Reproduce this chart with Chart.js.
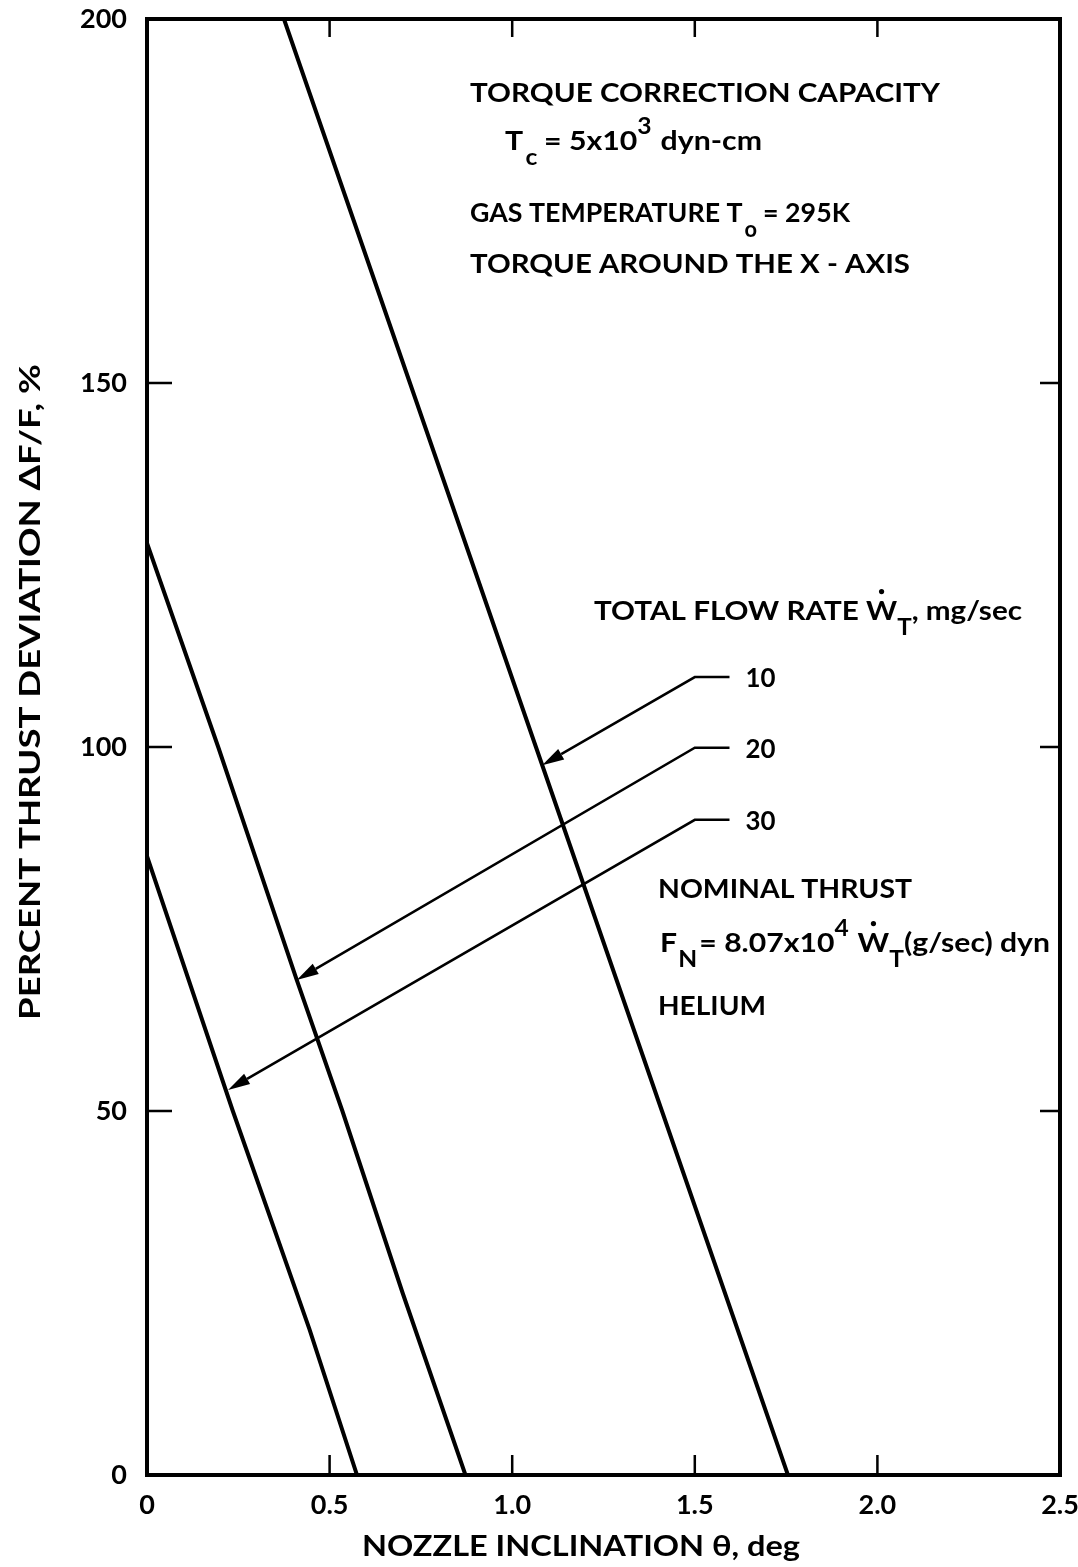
<!DOCTYPE html>
<html>
<head>
<meta charset="utf-8">
<script src="https://cdn.jsdelivr.net/npm/chart.js@4.4.1/dist/chart.umd.min.js"></script>
<style>
  html, body { margin: 0; padding: 0; background: #fff; }
  #wrap { width: 1078px; height: 1567px; position: relative; }
</style>
</head>
<body>
<div id="wrap"><canvas id="chart"></canvas></div>
<script>
// curves: nozzle inclination (deg) vs thrust deviation (%)
const thetaW10 = [0.375, 0.72, 1.065, 1.41, 1.755];
const devW10   = [200, 150, 100, 50, 0];
const thetaW20 = [0, 0.195, 0.41, 0.535, 0.70, 0.872];
const devW20   = [128, 100, 68, 50, 25, 0];
const thetaW30 = [0, 0.235, 0.445, 0.575];
const devW30   = [85, 50, 20, 0];

const flowRates = ['10', '20', '30'];
const xTicks = [0, 0.5, 1.0, 1.5, 2.0, 2.5];
const xTickLabels = ['0', '0.5', '1.0', '1.5', '2.0', '2.5'];
const yTicks = [0, 50, 100, 150, 200];

// leader arrows (data units): elbow on the right, tip on the curve
const arrowElbowX = 1.50;
const arrowEndX = 1.595;
const arrowElbowY = [109.6, 99.9, 90.0];
const arrowTipX = [1.082, 0.41, 0.222];
const arrowTipY = [97.5, 68, 52.9];

const FONT = 'Lato, "DejaVu Sans", sans-serif';

function toPoints(xs, ys) {
  return xs.map((x, i) => ({ x: x, y: ys[i] }));
}

function curve(xs, ys) {
  return {
    data: toPoints(xs, ys),
    borderColor: '#000',
    borderWidth: 4,
    pointRadius: 0,
    showLine: true,
    tension: 0,
    fill: false
  };
}

// a row of text pieces (sub/superscripts, dotted W), stretched to run from x0 to x1
function drawRuns(ctx, x0, x1, y, runs, size) {
  const fontFor = r => 'bold ' + ((r.sub || r.sup) ? Math.round(size * 0.8) : size) + 'px ' + FONT;
  let total = 0;
  runs.forEach(r => {
    ctx.font = fontFor(r);
    r.w = ctx.measureText(r.t).width;
    total += r.w + (r.gap || 0);
  });
  const sx = (x1 - x0) / total;
  ctx.save();
  ctx.translate(x0, y);
  ctx.scale(sx, 1);
  let cx = 0;
  runs.forEach(r => {
    ctx.font = fontFor(r);
    let dy = 0;
    if (r.sub) dy = size * 0.55;
    if (r.sup) dy = -size * 0.6;
    ctx.fillText(r.t, cx, dy);
    if (r.dot) {
      ctx.beginPath();
      ctx.ellipse(cx + r.w / 2, -size * 0.72 - 9, 2.6 / sx, 2.6, 0, 0, Math.PI * 2);
      ctx.fill();
    }
    cx += r.w + (r.gap || 0);
  });
  ctx.restore();
}

const decorations = {
  id: 'decorations',
  afterDatasetsDraw(chart) {
    const ctx = chart.ctx;
    const a = chart.chartArea;
    const xs = chart.scales.x;
    const ys = chart.scales.y;
    ctx.save();
    ctx.strokeStyle = '#000';
    ctx.fillStyle = '#000';

    // frame
    ctx.lineWidth = 4;
    ctx.strokeRect(a.left, a.top, a.right - a.left, a.bottom - a.top);

    // inward tick marks on all four sides
    ctx.lineWidth = 2.5;
    xTicks.slice(1, -1).forEach(v => {
      const px = xs.getPixelForValue(v);
      ctx.beginPath();
      ctx.moveTo(px, a.bottom); ctx.lineTo(px, a.bottom - 20);
      ctx.moveTo(px, a.top); ctx.lineTo(px, a.top + 18);
      ctx.stroke();
    });
    yTicks.slice(1, -1).forEach(v => {
      const py = ys.getPixelForValue(v);
      ctx.beginPath();
      ctx.moveTo(a.left, py); ctx.lineTo(a.left + 25, py);
      ctx.moveTo(a.right, py); ctx.lineTo(a.right - 20, py);
      ctx.stroke();
    });

    // leader arrows with flow-rate labels
    ctx.lineWidth = 2.5;
    flowRates.forEach((lab, i) => {
      const ex = xs.getPixelForValue(arrowElbowX);
      const endX = xs.getPixelForValue(arrowEndX);
      const ey = ys.getPixelForValue(arrowElbowY[i]);
      const tx = xs.getPixelForValue(arrowTipX[i]);
      const ty = ys.getPixelForValue(arrowTipY[i]);
      const ang = Math.atan2(ty - ey, tx - ex);
      const hl = 22, hw = 6;
      const bx = tx - hl * Math.cos(ang), by = ty - hl * Math.sin(ang);
      ctx.beginPath();
      ctx.moveTo(endX, ey);
      ctx.lineTo(ex, ey);
      ctx.lineTo(bx, by);
      ctx.stroke();
      ctx.beginPath();
      ctx.moveTo(tx, ty);
      ctx.lineTo(bx + hw * Math.sin(ang), by - hw * Math.cos(ang));
      ctx.lineTo(bx - hw * Math.sin(ang), by + hw * Math.cos(ang));
      ctx.closePath();
      ctx.fill();
      ctx.textBaseline = 'alphabetic';
      drawRuns(ctx, endX + 16, endX + 16 + 30, ey + 10, [{ t: lab }], 27);
    });

    // notes
    ctx.textBaseline = 'alphabetic';
    ctx.textAlign = 'left';
    const S = 27;
    drawRuns(ctx, 470, 940, 102, [{ t: 'TORQUE CORRECTION CAPACITY' }], S);
    drawRuns(ctx, 505, 762, 150, [{ t: 'T', gap: 2 }, { t: 'c', sub: true, gap: 6 }, { t: '= 5x10' }, { t: '3', sup: true, gap: 8 }, { t: 'dyn-cm' }], S);
    drawRuns(ctx, 470, 850, 222, [{ t: 'GAS TEMPERATURE T', gap: 2 }, { t: 'o', sub: true, gap: 6 }, { t: '= 295K' }], S);
    drawRuns(ctx, 470, 910, 273, [{ t: 'TORQUE AROUND THE X - AXIS' }], S);
    drawRuns(ctx, 594, 1022, 620, [{ t: 'TOTAL FLOW RATE ' }, { t: 'W', dot: true }, { t: 'T', sub: true }, { t: ', mg/sec' }], S);
    drawRuns(ctx, 658, 912, 898, [{ t: 'NOMINAL THRUST' }], S);
    drawRuns(ctx, 660, 1050, 952, [{ t: 'F', gap: 1 }, { t: 'N', sub: true, gap: 2 }, { t: '= 8.07x10' }, { t: '4', sup: true, gap: 8 }, { t: 'W', dot: true }, { t: 'T', sub: true }, { t: '(g/sec) dyn' }], S);
    drawRuns(ctx, 658, 766, 1015, [{ t: 'HELIUM' }], S);

    // axis titles
    drawRuns(ctx, 362, 800, 1556, [{ t: 'NOZZLE INCLINATION \u03B8, deg' }], 28);
    ctx.save();
    ctx.translate(40, 692);
    ctx.rotate(-Math.PI / 2);
    drawRuns(ctx, -328, 328, 0, [{ t: 'PERCENT THRUST DEVIATION \u0394F/F, %' }], 28);
    ctx.restore();

    ctx.restore();
  }
};

new Chart(document.getElementById('chart'), {
  type: 'scatter',
  data: {
    datasets: [curve(thetaW10, devW10), curve(thetaW20, devW20), curve(thetaW30, devW30)]
  },
  options: {
    responsive: true,
    maintainAspectRatio: false,
    animation: false,
    layout: { padding: { top: 19, right: 18, left: 0, bottom: 0 } },
    plugins: {
      legend: { display: false },
      tooltip: { enabled: false }
    },
    scales: {
      x: {
        type: 'linear',
        min: 0,
        max: 2.5,
        grid: { display: false, drawTicks: false },
        border: { display: false },
        afterBuildTicks(scale) {
          scale.ticks = xTicks.map(v => ({ value: v }));
        },
        ticks: {
          color: '#000',
          font: { family: FONT, size: 27, weight: 'bold' },
          padding: 14,
          maxRotation: 0,
          autoSkip: false,
          callback: (v, i) => xTickLabels[i]
        },
        afterFit(scale) {
          scale.height = 92;
          scale.paddingLeft = 0;
          scale.paddingRight = 0;
        }
      },
      y: {
        min: 0,
        max: 200,
        grid: { display: false, drawTicks: false },
        border: { display: false },
        afterBuildTicks(scale) {
          scale.ticks = yTicks.map(v => ({ value: v }));
        },
        ticks: {
          color: '#000',
          font: { family: FONT, size: 27, weight: 'bold' },
          padding: 20
        },
        afterFit(scale) {
          scale.width = 147;
          scale.paddingTop = 0;
          scale.paddingBottom = 0;
        }
      }
    }
  },
  plugins: [decorations]
});
</script>
</body>
</html>
